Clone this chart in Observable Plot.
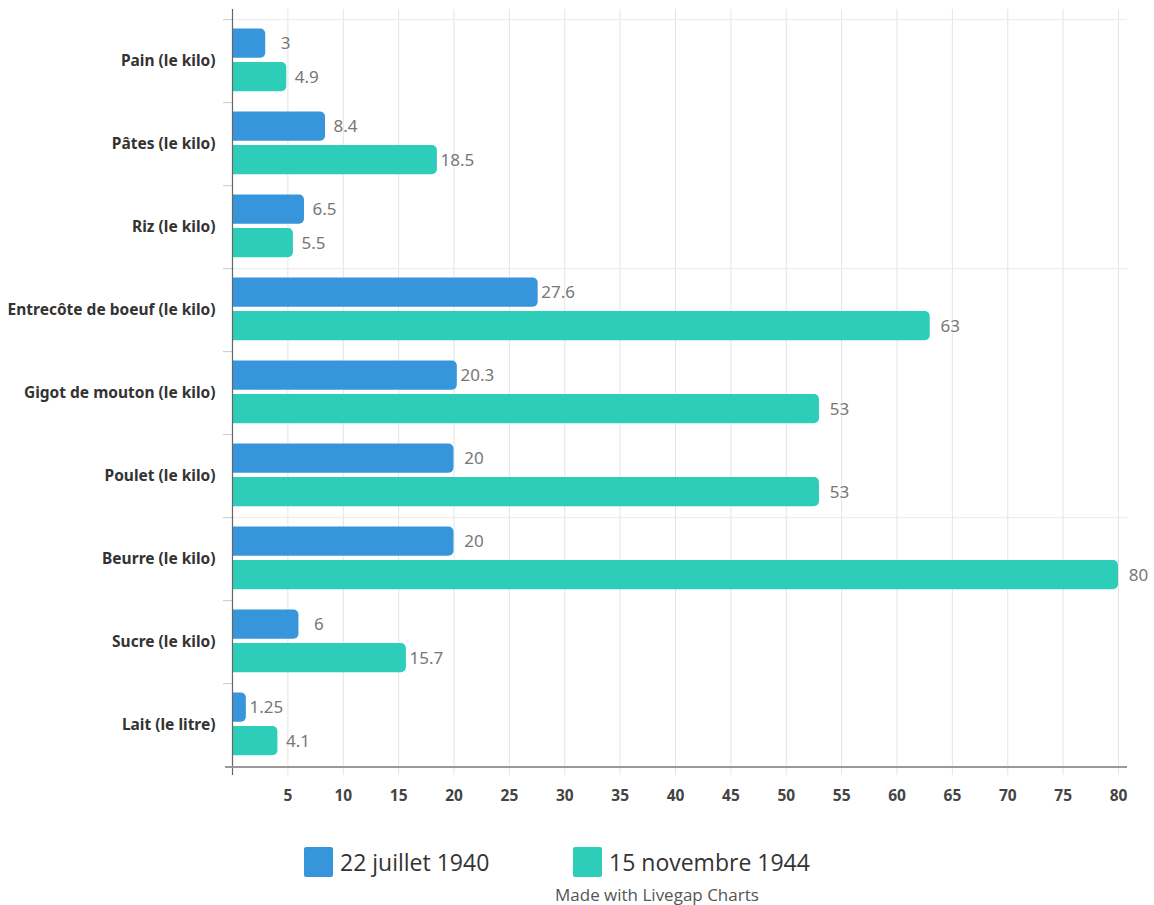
<!DOCTYPE html>
<html><head><meta charset="utf-8">
<script src="https://cdn.jsdelivr.net/npm/d3@7"></script>
<script src="https://cdn.jsdelivr.net/npm/@observablehq/plot@0.6"></script>
<style>
body{margin:0;background:#fff;}
#wrap{position:relative;width:1154px;height:905px;overflow:hidden;}
.leg{position:absolute;font-family:"Open Sans",sans-serif;color:#333;font-size:23px;line-height:30px;display:flex;align-items:center;}
.sw{display:inline-block;width:29px;height:30px;margin-right:7px;border-radius:2px;}
#credit{position:absolute;left:555px;top:883px;font-family:"Open Sans",sans-serif;font-size:17px;color:#555;}
</style></head><body>
<div id="wrap"><div id="chart"></div>
<div class="leg" id="leg0" style="left:304px;top:847px;"></div>
<div class="leg" id="leg1" style="left:573px;top:847px;"></div>
<div id="credit">Made with Livegap Charts</div>
</div>
<script>
const categories = ["Pain (le kilo)","Pâtes (le kilo)","Riz (le kilo)","Entrecôte de boeuf (le kilo)","Gigot de mouton (le kilo)","Poulet (le kilo)","Beurre (le kilo)","Sucre (le kilo)","Lait (le litre)"];
const series = ["22 juillet 1940","15 novembre 1944"];
const values1940 = [3,8.4,6.5,27.6,20.3,20,20,6,1.25];
const values1944 = [4.9,18.5,5.5,63,53,53,80,15.7,4.1];
const colors = ["#3796db","#2ecdb9"];
const xTicks = [5,10,15,20,25,30,35,40,45,50,55,60,65,70,75,80];
const gridCategories = [categories[0],categories[3],categories[6]];

const rows1940 = categories.map((c,i)=>({category:c, value:values1940[i]}));
const rows1944 = categories.map((c,i)=>({category:c, value:values1944[i]}));

const W=1154, H=820, mT=17, mB=53, mL=232, mR=36;
const band=(H-mT-mB)/categories.length;
const barH=29.5, top1=9.5, top2=43;

const chart = Plot.plot({
  width:W, height:H, marginTop:mT, marginBottom:mB, marginLeft:mL, marginRight:mR,
  style:{background:"#fff", overflow:"visible"},
  x:{domain:[0,80]},
  y:{domain:categories, padding:0},
  marks:[
    Plot.ruleX(xTicks,{stroke:"#e4e4e4", strokeWidth:1, insetTop:-8, insetBottom:-8}),
    Plot.barX(gridCategories,{y:d=>d, x1:0, x2:80, insetRight:-9, insetBottom:band-1.5, fill:"#ececec"}),
    Plot.barX(categories,{y:d=>d, x1:0, x2:0, insetLeft:-9, insetBottom:band-1.5, fill:"#d0d0d0"}),
    Plot.barX(rows1940,{y:"category", x:"value", fill:colors[0], insetTop:top1, insetBottom:band-top1-barH, insetLeft:-6, rx:5, clip:true}),
    Plot.barX(rows1944,{y:"category", x:"value", fill:colors[1], insetTop:top2, insetBottom:band-top2-barH, insetLeft:-6, rx:5, clip:true}),
    Plot.text(rows1940,{y:"category", x:"value", text:d=>String(d.value), dx:20, dy:-(band/2-top1-barH/2), textAnchor:"middle", fill:"#777", fontSize:17}),
    Plot.text(rows1944,{y:"category", x:"value", text:d=>String(d.value), dx:20, dy:(top2+barH/2-band/2), textAnchor:"middle", fill:"#777", fontSize:17}),
    Plot.ruleX([0],{stroke:"#666", strokeWidth:1.2, insetTop:-8, insetBottom:-8}),
    Plot.barX([0],{x1:0, x2:80, insetLeft:-7, insetRight:-9, insetTop:H-mT-mB-1, insetBottom:-1, fill:"#999"}),
    Plot.axisY({label:null, tickSize:0, tickPadding:17, fontSize:15.5, fill:"#333", fontWeight:"bold"}),
    Plot.axisX({label:null, ticks:xTicks, tickSize:0, tickPadding:22, fontSize:15.5, fill:"#444", fontWeight:"bold"})
  ]
});
document.getElementById("chart").appendChild(chart);
["leg0","leg1"].forEach((id,i)=>{
  const el=document.getElementById(id);
  el.innerHTML=`<span class="sw" style="background:${colors[i]}"></span><span>${series[i]}</span>`;
});
</script>
</body></html>
